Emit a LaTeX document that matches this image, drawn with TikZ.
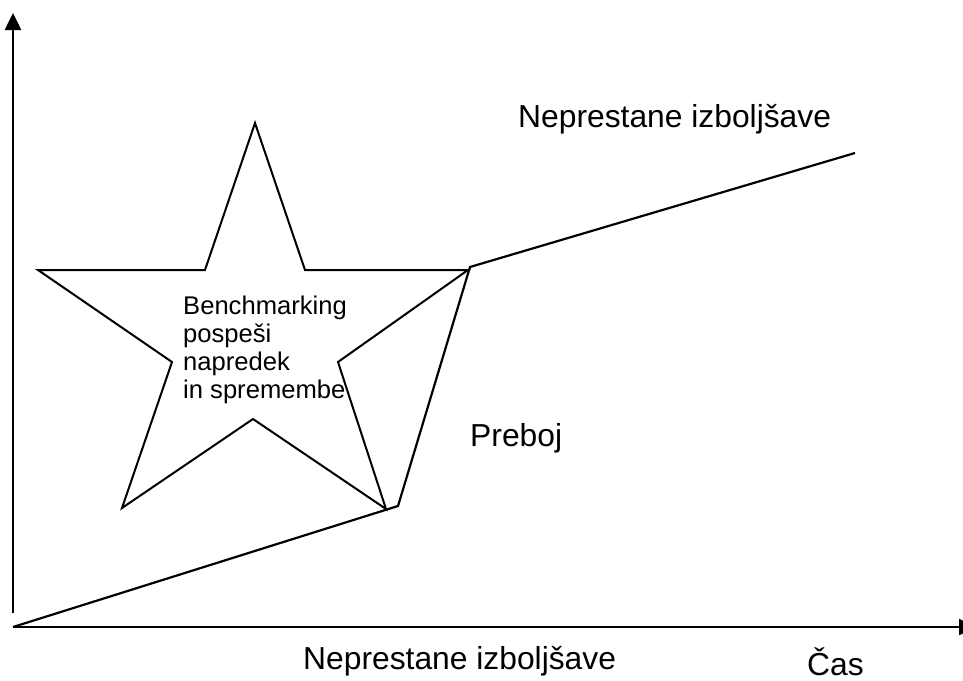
\documentclass[tikz,border=0pt]{standalone}
\usepackage{fontspec}
\setmainfont{Liberation Sans}
\usetikzlibrary{arrows.meta}
\tikzset{
  axis/.style={line width=2.5pt, -{Triangle[width=16pt,length=17pt]}},
  trend/.style={line width=2.2pt, line join=miter},
  starline/.style={line width=2pt, line join=miter},
  biglabel/.style={font=\fontsize{31.8}{36}\selectfont, anchor=base west, inner sep=0pt},
  startext/.style={font=\fontsize{25.6}{27.7}\selectfont, anchor=base west, inner sep=0pt, align=left}
}
\begin{document}
\begin{tikzpicture}[x=1pt,y=-1pt]
  \useasboundingbox (0,0) rectangle (963,680);
  \clip (0,0) rectangle (963,680);
  \fill[white] (0,0) rectangle (963,680);

  % axes
  \coordinate (origin) at (13,627);
  \coordinate (ybot) at (13,613);
  \coordinate (ytop) at (13,13);
  \coordinate (xend) at (976,627);
  \draw[axis] (ybot) -- (ytop);
  \draw[axis] (origin) -- (xend);

  % improvement curve: slow rise, breakthrough, slow rise
  \coordinate (b1) at (398,506);
  \coordinate (b2) at (470,267);
  \coordinate (c2) at (855,153);
  \draw[trend] (origin) -- (b1) -- (b2) -- (c2);

  % five-pointed star
  \coordinate (s1) at (255,123);
  \coordinate (s2) at (305,270);
  \coordinate (s3) at (468,270);
  \coordinate (s4) at (338,362);
  \coordinate (s5) at (386,509);
  \coordinate (s6) at (253,419);
  \coordinate (s7) at (122,508);
  \coordinate (s8) at (172,362);
  \coordinate (s9) at (38,270);
  \coordinate (s10) at (205,270);
  \draw[starline] (s1) -- (s2) -- (s3) -- (s4) -- (s5) -- (s6) -- (s7) -- (s8) -- (s9) -- (s10) -- cycle;

  % labels (multi-line node: base is the last line)
  \node[startext] (bench) at (183,398) {Benchmarking\\pospeši\\napredek\\in spremembe};
  \node[biglabel] (topl) at (518,127) {Neprestane izboljšave};
  \node[biglabel] (prebo) at (470,446) {Preboj};
  \node[biglabel] (botl) at (303,669) {Neprestane izboljšave};
  \node[biglabel] (cas) at (807,675) {Čas};
\end{tikzpicture}
\end{document}
